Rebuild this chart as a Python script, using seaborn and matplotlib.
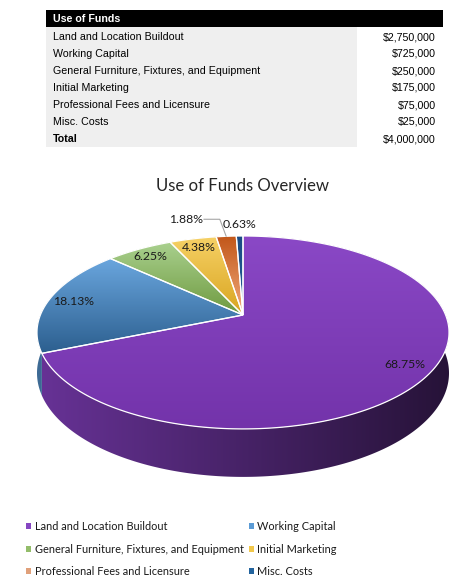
import numpy as np
import matplotlib
matplotlib.use("Agg")
import matplotlib.pyplot as plt
import matplotlib.colors as mcolors
from matplotlib.patches import Polygon, Rectangle, Patch
from decimal import Decimal, ROUND_HALF_UP
import seaborn as sns

# ---------------- data ----------------
categories = ["Land and Location Buildout", "Working Capital",
              "General Furniture, Fixtures, and Equipment", "Initial Marketing",
              "Professional Fees and Licensure", "Misc. Costs"]
amounts = [2750000, 725000, 250000, 175000, 75000, 25000]
table_title = "Use of Funds"
total_label = "Total"
chart_title = "Use of Funds Overview"

# ---------------- styles ----------------
top_light = ["#8a48c6", "#6aa6de", "#a9d08e", "#f6d166", "#c2571a", "#1b4c84"]
top_dark = ["#7333aa", "#2c5f8f", "#6f9a40", "#d9a520", "#f2ab7c", "#215a95"]
legend_colors = ["#8646c2", "#5b9bd5", "#93bd6a", "#f2c84b", "#e0a07a", "#23649e"]

sns.set_theme(style="white")
plt.rcParams['font.family'] = ['Lato', 'DejaVu Sans']

W, H = 467, 582
fig = plt.figure(figsize=(W / 100, H / 100), dpi=100)
ax = fig.add_axes([0, 0, 1, 1])
ax.set_axis_off()

# ---------------- table ----------------
TX0, TX1, TGRAY = 46, 443, 357
HEAD_Y0, HEAD_H = 10, 17
ROW_Y0, ROW_H = 37, 17
TXT_X, VAL_X = 53, 436
tfont = dict(family=['Liberation Sans', 'DejaVu Sans'], fontsize=7.7, va='center')

ax.add_patch(Rectangle((TX0, HEAD_Y0), TX1 - TX0, HEAD_H, color='black', lw=0))
ax.text(TXT_X, HEAD_Y0 + HEAD_H / 2 + 0.5, table_title, color='white',
        fontweight='bold', **tfont)
nrows = len(categories) + 1
ax.add_patch(Rectangle((TX0, HEAD_Y0 + HEAD_H), TGRAY - TX0,
                       ROW_H * nrows + 1, color='#efefef', lw=0))
rows = list(zip(categories, amounts)) + [(total_label, sum(amounts))]
for i, (lab, val) in enumerate(rows):
    y = ROW_Y0 + ROW_H * i
    bold = 'bold' if lab == total_label else 'normal'
    ax.text(TXT_X, y, lab, color='black', fontweight=bold, **tfont)
    ax.text(VAL_X, y, f"${val:,.0f}", color='black', ha='right', **tfont)

# ---------------- title ----------------
ax.text(243, 186, chart_title, ha='center', va='center', fontsize=12.1,
        color='#262626')

# ---------------- 3D pie ----------------
CX, CY = 243, 315
RX, RY = 202.6, 93.3
P = 0.181
DEPTH = 39.3


def project(r, phi, depth=0.0):
    u = r * np.sin(phi)
    v = -r * np.cos(phi)
    w = 1 - P * v
    return CX + RX * u / w, CY + (RY * v + depth) / w


def pct_text(x):
    d = Decimal(f"{float(x) * 100:.8f}").quantize(Decimal("0.01"), rounding=ROUND_HALF_UP)
    return f"{d}%"


vals = np.array(amounts, dtype=float)
frac = vals / vals.sum()
bounds = np.concatenate([[0], np.cumsum(frac)]) * 2 * np.pi

xg = np.linspace(0, 1, 256)
# side walls (one polygon per slice, horizontal shading)
for i in range(len(vals)):
    a0, a1 = bounds[i], bounds[i + 1]
    n = max(3, int(np.degrees(a1 - a0) * 2) + 1)
    ph = np.linspace(a0, a1, n)
    tx, ty = project(1, ph)
    bx, by = project(1, ph, DEPTH)
    pts = list(zip(tx, ty)) + list(zip(bx[::-1], by[::-1]))
    clip = Polygon(pts, closed=True, transform=ax.transData)
    x0, x1 = CX - RX * 1.03, CX + RX * 1.03
    y0, y1 = min(ty.min(), by.min()), max(ty.max(), by.max())
    base = (np.array(mcolors.to_rgb(top_light[i])) + np.array(mcolors.to_rgb(top_dark[i]))) / 2
    f = 0.82 - 0.52 * xg
    grad = np.clip(base[None, :] * f[:, None], 0, 1)[None, :, :]
    grad = np.repeat(grad, 2, axis=0)
    im = ax.imshow(grad, extent=(x0, x1, y1, y0), origin='upper', aspect='auto',
                   interpolation='bilinear', zorder=1)
    im.set_clip_path(clip)

# top faces with gradients
for i in range(len(vals)):
    a0, a1 = bounds[i], bounds[i + 1]
    n = max(3, int(np.degrees(a1 - a0) * 2) + 1)
    ph = np.linspace(a0, a1, n)
    xs, ys = project(1, ph)
    pts = [(CX, CY)] + list(zip(xs, ys))
    clip = Polygon(pts, closed=True, transform=ax.transData)
    xa = [p[0] for p in pts]
    ya = [p[1] for p in pts]
    x0, x1, y0, y1 = min(xa), max(xa), min(ya), max(ya)
    c0 = np.array(mcolors.to_rgb(top_light[i]))
    c1 = np.array(mcolors.to_rgb(top_dark[i]))
    t = np.linspace(0, 1, 128)[:, None]
    grad = (c0[None, :] * (1 - t) + c1[None, :] * t)[:, None, :]
    grad = np.repeat(grad, 2, axis=1)
    im = ax.imshow(grad, extent=(x0, x1, y1, y0), origin='upper', aspect='auto',
                   interpolation='bilinear', zorder=2)
    im.set_clip_path(clip)
    ax.add_patch(Polygon(pts, closed=True, facecolor='none', edgecolor='white',
                         lw=0.9, zorder=3))

# data labels
R_IN, R_OUT = 0.875, 1.17
label_nudge = {"Professional Fees and Licensure": (-38, -6)}
for i, cat in enumerate(categories):
    mid = (bounds[i] + bounds[i + 1]) / 2
    txt = pct_text(frac[i])
    r = R_IN if frac[i] >= 0.03 else R_OUT
    lx, ly = project(r, mid)
    if cat in label_nudge:
        dx, dy = label_nudge[cat]
        lx, ly = lx + dx, ly + dy
        ex, ey = project(1.0, mid)
        ax.plot([lx + 18, lx + 34, ex], [ly, ly, ey], color='#a6a6a6', lw=0.8, zorder=4)
    ax.text(lx, ly, txt, ha='center', va='center', fontsize=8.8, color='#1a1a1a', zorder=5)

# ---------------- legend ----------------
order_rm = [0, 2, 4, 1, 3, 5]
handles = [Patch(facecolor=legend_colors[j], edgecolor='none') for j in order_rm]
labels = [categories[j] for j in order_rm]
ax.legend(handles, labels, ncol=2, loc='upper left',
          bbox_to_anchor=(26 / W, 1 - 521 / H), frameon=False, fontsize=7.9,
          handlelength=0.45, handleheight=0.45, handletextpad=0.35,
          columnspacing=0.45, labelspacing=1.06, borderaxespad=0, borderpad=0,
          labelcolor='#1a1a1a')

ax.set_xlim(0, W)
ax.set_ylim(H, 0)
fig.savefig("out.png", dpi=100)
